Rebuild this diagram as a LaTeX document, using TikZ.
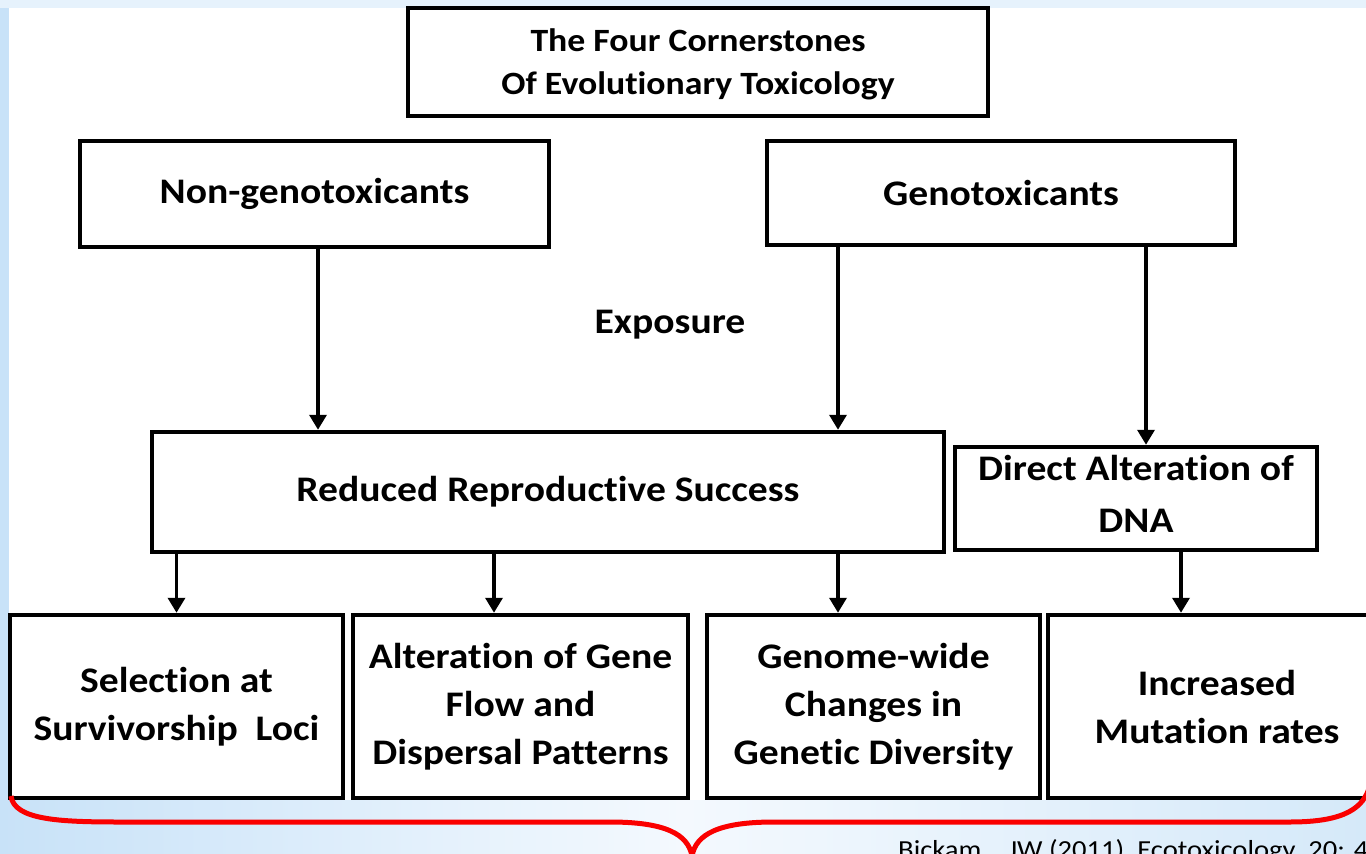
\documentclass[tikz,border=0pt]{standalone}
\usepackage{fontspec}
\setmainfont{Carlito}[FakeStretch=1.1, Ligatures=NoCommon]
\usetikzlibrary{arrows.meta}
\definecolor{bgleft}{RGB}{200,226,248}
\definecolor{bgmid}{RGB}{244,249,254}
\definecolor{bgright}{RGB}{213,233,249}
\definecolor{bgtop}{RGB}{230,242,252}
\definecolor{bracered}{RGB}{250,0,0}
\tikzset{
  box/.style={draw=black, line width=4.5pt, fill=white, inner sep=0pt, align=center,
    font=\bfseries\fontsize{36}{48}\selectfont},
  lbl/.style={inner sep=0pt, align=center, font=\bfseries\fontsize{36}{48}\selectfont},
  arr/.style={line width=3.5pt, -{Triangle[width=17pt,length=15pt]}},
  brace/.style={draw=bracered, line width=5pt},
}
\begin{document}
\begin{tikzpicture}[x=1pt,y=-1pt]
\useasboundingbox (0,0) rectangle (1366,854);
\clip (0,0) rectangle (1366,854);
% background
\shade[left color=bgleft, right color=bgright, middle color=bgmid] (0,0) rectangle (1366,854);
\fill[bgtop] (0,0) rectangle (1366,8);
\fill[white] (9,8) rectangle (1366,800);

% boxes
\node[box, minimum width=580pt, minimum height=108pt] (title) at (698,62) {};
\node[lbl, font=\bfseries\fontsize{32.5}{43}\selectfont] (titletext) at ([yshift=-2pt]title.center)
  {The Four Cornerstones\\Of Evolutionary Toxicology};
\node[box, minimum width=469pt, minimum height=106pt] (nongeno) at (314.5,194) {Non-genotoxicants};
\node[box, minimum width=468pt, minimum height=104pt] (geno) at (1001,193) {Genotoxicants};
\node[lbl] (expo) at (670,325) {Exposure};
\node[box, minimum width=792pt, minimum height=120pt] (reduced) at (548,492) {Reduced Reproductive Success};
\node[box, minimum width=362pt, minimum height=103pt] (direct) at (1136,498.5) {};
\node[lbl, font=\bfseries\fontsize{36}{52}\selectfont] (directtext) at ([yshift=5pt]direct.center)
  {Direct Alteration of\\DNA};
\node[box, minimum width=333pt, minimum height=183pt] (b1) at (176.5,706.5) {Selection at\\Survivorship\ \ Loci};
\node[box, minimum width=335pt, minimum height=183pt] (b2) at (520.5,706.5) {Alteration of Gene\\Flow and\\Dispersal Patterns};
\node[box, minimum width=333pt, minimum height=183pt] (b3) at (873.5,706.5) {Genome-wide\\Changes in\\Genetic Diversity};
\node[box, minimum width=338pt, minimum height=183pt] (b4) at (1217,706.5) {Increased\\Mutation rates};

% arrows
\draw[arr] ([xshift=3.5pt]nongeno.south) -- ([xshift=3.5pt]nongeno.south |- reduced.north);
\draw[arr] ([xshift=-163pt]geno.south) -- ([xshift=-163pt]geno.south |- reduced.north);
\draw[arr] ([xshift=145pt]geno.south) -- ([xshift=145pt]geno.south |- direct.north);
\draw[arr] (b1.north |- reduced.south) -- (b1.north);
\draw[arr] ([xshift=-26.5pt]b2.north |- reduced.south) -- ([xshift=-26.5pt]b2.north);
\draw[arr] ([xshift=-35.5pt]b3.north |- reduced.south) -- ([xshift=-35.5pt]b3.north);
\draw[arr] ([xshift=-36pt]b4.north |- direct.south) -- ([xshift=-36pt]b4.north);

% brace
\coordinate (bl) at (11,796);
\coordinate (tip) at (692,856);
\coordinate (br) at (1370,785);
\draw[brace] (bl) .. controls (14,820) and (60,822) .. (120,822) -- (610,822)
  .. controls (665,822) and (688,834) .. (tip);
\draw[brace] (tip) .. controls (696,834) and (719,822) .. (774,822) -- (1290,822)
  .. controls (1345,822) and (1364,808) .. (br);

% citation
\node[anchor=base west, inner sep=0pt, font=\fontsize{26}{30}\selectfont] (cite) at (898,858)
  {Bickam\ \ , JW (2011)\ \ Ecotoxicology\ \ 20: 4};
\end{tikzpicture}
\end{document}
